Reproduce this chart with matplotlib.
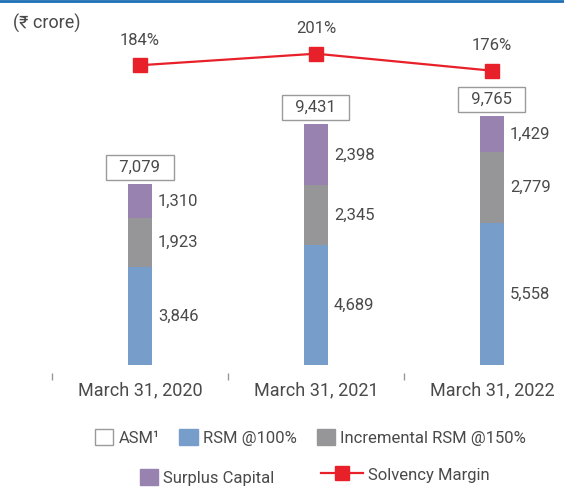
import matplotlib.pyplot as plt
import matplotlib.patches as mpatches
import matplotlib.lines as mlines
import numpy as np

plt.rcParams['font.family'] = ['Roboto', 'DejaVu Sans']

years = ['March 31, 2020', 'March 31, 2021', 'March 31, 2022']
rsm = [3846, 4689, 5558]
incremental = [1923, 2345, 2779]
surplus = [1310, 2398, 1429]
asm_total = [7079, 9431, 9765]
solvency = [184, 201, 176]

BLUE = '#779dcb'
GREY = '#969698'
PURPLE = '#9782b0'
RED = '#e8202a'
TEXT = '#4a4a4a'

fig = plt.figure(figsize=(5.64, 4.87), dpi=100)
ax = fig.add_axes([0, 0.2505, 1, 0.7495])

x = np.arange(len(years))
w = 0.136
ax.bar(x, rsm, w, color=BLUE)
ax.bar(x, incremental, w, bottom=rsm, color=GREY)
bottom2 = np.array(rsm) + np.array(incremental)
ax.bar(x, surplus, w, bottom=bottom2, color=PURPLE)

# segment values to the right of each bar
for i in range(len(x)):
    segs = [(0, rsm[i]), (rsm[i], incremental[i]), (bottom2[i], surplus[i])]
    for b, h in segs:
        ax.text(x[i] + w / 2 + 0.035, b + h / 2, f'{h:,}', va='center', ha='left',
                fontsize=12, color=TEXT)
    ax.annotate(f'  {asm_total[i]:,}  ', (x[i], asm_total[i]), xytext=(0, 12),
                textcoords='offset points', ha='center', va='center', fontsize=12,
                color=TEXT,
                bbox=dict(boxstyle='square,pad=0.3', fc='white', ec='#9a9a9a', lw=1))

ax.set_xlim(-0.795, 2.41)
ax.set_ylim(0, 14300)

# solvency margin on its own scale
ax2 = fig.add_axes([0, 0.2505, 1, 0.7495], sharex=ax)
ax2.patch.set_visible(False)
ax2.plot(x, solvency, color=RED, lw=1.6, marker='s', markersize=10)
for i in range(len(x)):
    ax2.annotate(f'{solvency[i]}%', (x[i], solvency[i]), xytext=(0, 18),
                 textcoords='offset points', ha='center', va='center', fontsize=12,
                 color=TEXT)
ax2.set_ylim(-257, 280)
ax2.axis('off')

for s in ax.spines.values():
    s.set_visible(False)
ax.spines['bottom'].set_position(('outward', 6))
ax.set_yticks([])
ax.set_xticks(x - 0.5)
ax.set_xticklabels([])
ax.tick_params(axis='x', which='major', length=5, color='#999999', width=1)
ax.set_xticks(x, minor=True)
ax.set_xticklabels(years, minor=True, fontsize=13, color=TEXT)
ax.tick_params(axis='x', which='minor', length=0, pad=6)

fig.text(0.023, 0.952, '(₹ crore)', fontsize=13, color=TEXT, va='center')
fig.add_artist(mlines.Line2D([0, 1], [0.998, 0.998], color='#1f6fb5', lw=2))

# legend rows
legkw = dict(frameon=False, fontsize=12, handleheight=1.1, handletextpad=0.3,
             labelcolor=TEXT, borderpad=0, borderaxespad=0)
h1 = [mpatches.Patch(fc='white', ec='#9a9a9a', label='ASM¹'),
      mpatches.Patch(color=BLUE, label='RSM @100%'),
      mpatches.Patch(color=GREY, label='Incremental RSM @150%')]
fig.legend(handles=h1, loc='center left', bbox_to_anchor=(95 / 564, 0.101), ncol=3,
           handlelength=1.1, columnspacing=1.2, **legkw)
fig.legend(handles=[mpatches.Patch(color=PURPLE, label='Surplus Capital')],
           loc='center left', bbox_to_anchor=(140 / 564, 0.019),
           handlelength=1.1, **legkw)
fig.legend(handles=[mlines.Line2D([], [], color=RED, lw=1.6, marker='s', markersize=10,
                                  label='Solvency Margin')],
           loc='center left', bbox_to_anchor=(321 / 564, 0.025),
           handlelength=2.5, **legkw)

fig.savefig('out.png', dpi=100)
